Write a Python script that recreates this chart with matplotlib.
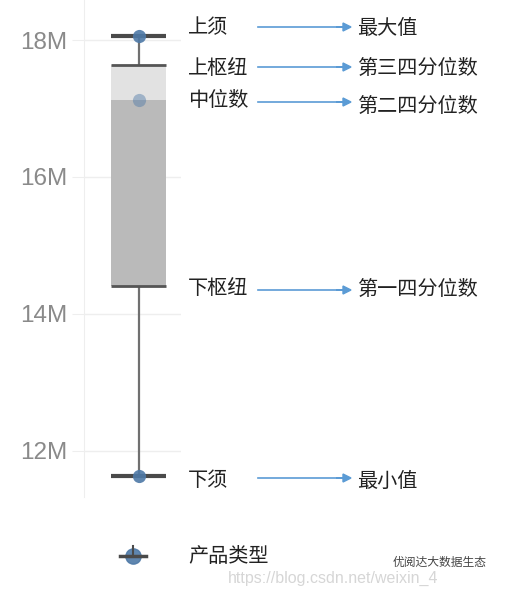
import matplotlib
matplotlib.use('Agg')
import matplotlib.pyplot as plt

plt.rcParams['font.family'] = ['Noto Sans CJK SC', 'DejaVu Sans']

# box plot stats (values in millions)
whisker_low = 11.63
q1 = 14.41
median = 17.12
q3 = 17.63
whisker_high = 18.06

y_ticks = [12, 14, 16, 18]
y_tick_labels = ['12M', '14M', '16M', '18M']

left_labels = ['上须', '上枢纽', '中位数', '下枢纽', '下须']
right_labels = ['最大值', '第三四分位数', '第二四分位数', '第一四分位数', '最小值']
left_y_px = [28, 68, 100, 289, 481]
right_y_px = [28, 68, 106, 289, 481]
arrow_y_px = [27, 67, 102, 290, 478]

W, H = 505, 590
fig = plt.figure(figsize=(W / 100, H / 100), dpi=100)


def fx(px):
    return px / W


def fy(py):
    return 1 - py / H


ax = fig.add_axes([fx(84), fy(497), fx(181) - fx(84), 497 / H])
ax.set_xlim(-1.0, 0.764)
ax.set_ylim(11.328, 18.584)

blue = '#4e79a7'
dark = '#555555'

# box: light part above median, darker below
ax.bar(0, q3 - median, bottom=median, width=1, color='#e2e2e2', zorder=2)
ax.bar(0, median - q1, bottom=q1, width=1, color='#bababa', zorder=2)
ax.vlines(0, q3, whisker_high, color='#707070', lw=1.6, zorder=1)
ax.vlines(0, whisker_low, q1, color='#707070', lw=1.6, zorder=1)
ax.hlines([q3, q1], -0.5, 0.5, color=dark, lw=2, zorder=3)
ax.hlines([whisker_high, whisker_low], -0.5, 0.5, color='#4a4a4a', lw=3, zorder=3)

ax.scatter([0, 0], [whisker_high, whisker_low], s=90, color=blue, alpha=0.9, zorder=4, linewidths=0)
ax.scatter([0], [median], s=90, color=blue, alpha=0.45, zorder=4, linewidths=0)

ax.set_yticks(y_ticks)
ax.set_yticklabels(y_tick_labels, family=['Liberation Sans', 'DejaVu Sans'])
ax.tick_params(axis='y', length=9, color='#eeeeee', labelcolor='#8a8a8a', labelsize=17.5, pad=3)
ax.set_xticks([])
ax.grid(axis='y', color='#eeeeee', lw=1)
ax.set_axisbelow(True)
for s in ['top', 'right', 'bottom']:
    ax.spines[s].set_visible(False)
ax.spines['left'].set_color('#eeeeee')

# annotations
for lab, py in zip(left_labels, left_y_px):
    fig.text(fx(188), fy(py), lab, fontsize=14.5, color='#222222', va='center', ha='left')
for lab, py in zip(right_labels, right_y_px):
    fig.text(fx(357), fy(py), lab, fontsize=14.5, color='#222222', va='center', ha='left')
for py in arrow_y_px:
    fig.add_artist(plt.Line2D([fx(258), fx(336)], [fy(py), fy(py)], color='#5b9bd5', lw=1.2))
    fig.add_artist(matplotlib.patches.FancyArrow(fx(336), fy(py), fx(7), 0, width=0,
                                                 head_width=8 / H, head_length=fx(8),
                                                 length_includes_head=False, color='#5b9bd5'))

# legend
lx, ly = 133, 556
fig.add_artist(plt.Line2D([fx(lx)], [fy(ly)], marker='o', markersize=11, color=blue, alpha=0.9, lw=0))
fig.add_artist(plt.Line2D([fx(lx - 13), fx(lx + 13)], [fy(ly), fy(ly)], color='#4a4a4a', lw=2.5))
fig.add_artist(plt.Line2D([fx(lx), fx(lx)], [fy(ly), fy(ly - 10)], color='#4a4a4a', lw=1.5))
fig.text(fx(188), fy(ly), '产品类型', fontsize=14.5, color='#222222', va='center', ha='left')

# watermark
fig.text(fx(228), fy(578), 'https://blog.csdn.net/weixin_4', fontsize=11.5, color='#d6d6d6',
         va='center', ha='left', family=['Liberation Sans', 'DejaVu Sans'])
fig.text(fx(393), fy(562), '优阅达大数据生态', fontsize=8.5, color='#444444', va='center', ha='left')

fig.savefig('out.png', dpi=100, facecolor='white')
